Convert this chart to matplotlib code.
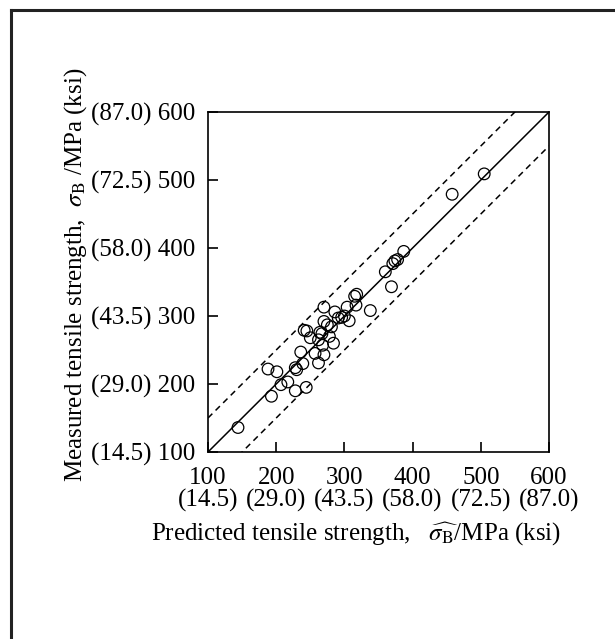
import matplotlib.pyplot as plt
from matplotlib.lines import Line2D

plt.rcParams['font.family'] = ['Liberation Serif', 'DejaVu Serif']
plt.rcParams['mathtext.fontset'] = 'stix'

# predicted vs measured tensile strength (MPa)
predicted = [144, 505, 458, 387, 374, 371, 378, 360, 369, 318, 315, 338,
             304, 307, 317, 286, 270, 270, 281, 291, 241, 245, 267, 262,
             268, 284, 257, 270, 262, 236, 239, 228, 230, 188, 201, 207,
             217, 193, 228, 244, 300, 296, 275, 278, 264, 250]
measured = [136, 509, 479, 395, 381, 377, 383, 365, 343, 332, 329, 308,
            313, 293, 316, 306, 313, 292, 284, 297, 279, 278, 274, 265,
            257, 260, 245, 243, 231, 247, 230, 224, 221, 222, 218, 199,
            203, 182, 190, 195, 300, 298, 287, 270, 276, 268]

ticks = [100, 200, 300, 400, 500, 600]
ksi = ['(14.5)', '(29.0)', '(43.5)', '(58.0)', '(72.5)', '(87.0)']
band = 50  # scatter band, MPa

fig = plt.figure(figsize=(6.15, 6.39), dpi=100)
ax = fig.add_axes([208 / 615, 1 - 452 / 639, 341 / 615, 340 / 639])

line = [100, 600]
ax.plot(line, line, color='black', lw=1.1)
ax.plot(line, [v + band for v in line], color='black', lw=1.1, ls=(0, (4, 3)))
ax.plot(line, [v - band for v in line], color='black', lw=1.1, ls=(0, (4, 3)))
ax.scatter(predicted, measured, s=70, facecolors='none', edgecolors='black',
           linewidths=0.9, zorder=3)

ax.set_xlim(100, 600)
ax.set_ylim(100, 600)
ax.set_xticks(ticks)
ax.set_yticks(ticks)
ax.set_xticklabels([f'{t}\n{k}' for t, k in zip(ticks, ksi)], fontsize=18,
                   linespacing=1.0)
ax.set_yticklabels([f'{k} {t}' for t, k in zip(ticks, ksi)], fontsize=18)
ax.tick_params(axis='x', direction='in', length=7, width=1.2, pad=11)
ax.tick_params(axis='y', direction='in', length=7, width=1.2, pad=9)
for s in ax.spines.values():
    s.set_linewidth(1.2)

ax.set_xlabel(r'Predicted tensile strength,   $\widehat{\sigma_{\rm B}}$/MPa (ksi)',
              fontsize=18)
ax.set_ylabel(r'Measured tensile strength,  $\sigma_{\rm B}$ /MPa (ksi)',
              fontsize=18)
ax.xaxis.set_label_coords(0.435, -0.2)
ax.yaxis.set_label_coords(-0.35, 0.52)

# page frame (top and left edges)
fig.add_artist(Line2D([11 / 615, 11 / 615], [0, 1 - 10 / 639], color='#222222',
                      lw=2.2, transform=fig.transFigure))
fig.add_artist(Line2D([11 / 615, 1], [1 - 10 / 639, 1 - 10 / 639], color='#222222',
                      lw=2.2, transform=fig.transFigure))

fig.savefig('out.png', dpi=100)
